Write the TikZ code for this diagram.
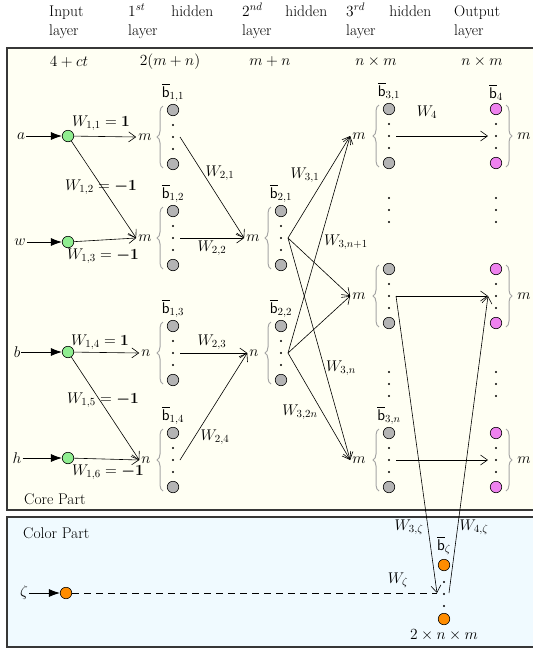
\RequirePackage{fix-cm}
\documentclass[tikz,border=0pt]{standalone}
\usepackage{amsmath,bm}
\usetikzlibrary{arrows.meta,decorations.pathreplacing}
\definecolor{corefill}{RGB}{255,255,243}
\definecolor{colfill}{RGB}{240,250,255}
\definecolor{ngray}{RGB}{180,180,180}
\definecolor{ngreen}{RGB}{144,238,144}
\definecolor{npink}{RGB}{238,130,238}
\definecolor{norange}{RGB}{255,140,0}
\definecolor{brgray}{RGB}{165,165,165}
\definecolor{boxline}{RGB}{55,55,55}
\tikzset{
  neuron/.style={circle,draw=black,line width=0.6pt,minimum size=11.5pt,inner sep=0pt},
  grayn/.style={neuron,fill=ngray},
  greenn/.style={neuron,fill=ngreen},
  pinkn/.style={neuron,fill=npink},
  orangen/.style={neuron,fill=norange},
  vdot/.style={circle,fill=black,inner sep=0pt,minimum size=2.4pt},
  conn/.style={-{Straight Barb[length=7pt,width=10pt]},line width=0.6pt},
  inarrow/.style={-{Latex[length=11pt,width=8pt]},line width=0.8pt},
  brc/.style={decorate,decoration={brace,amplitude=6pt},draw=brgray,line width=1pt},
  hdr/.style={anchor=base west,inner sep=0pt},
  cntlab/.style={inner sep=2pt},
  blab/.style={anchor=south,inner sep=1pt},
  wlab/.style={inner sep=0pt},
  boxst/.style={draw=boxline,line width=1.2pt},
}
\newcommand\mkgroup[4]{%
  \node[#4] (#1t) at ({#2},{#3-27}) {};
  \node[#4] (#1b) at ({#2},{#3+27}) {};
  \node[vdot] (#1d1) at ({#2},{#3-12}) {};
  \node[vdot] (#1d2) at ({#2},{#3}) {};
  \node[vdot] (#1d3) at ({#2},{#3+12}) {};
  \coordinate (#1o) at ({#2+7},{#3});
  \coordinate (#1i) at ({#2-8},{#3});
}
\newcommand\mkbrace[3]{%
  \draw[brc] ({#1+10*#3},{#2-31*#3}) -- ({#1+10*#3},{#2+31*#3});
}
\begin{document}
\begin{tikzpicture}[x=1pt,y=-1pt,every node/.style={font=\fontsize{15.5}{19}\selectfont}]
\useasboundingbox (0,0) rectangle (533,649);
% boxes
\fill[corefill] (7,48) rectangle (545,510);
\draw[boxst] (7,48) rectangle (545,510);
\fill[colfill] (7,517) rectangle (545,647);
\draw[boxst] (7,517) rectangle (545,647);
\node[anchor=west,inner sep=0pt] (core) at (24,499) {Core Part};
\node[anchor=west,inner sep=0pt] (color) at (23,533) {Color Part};
% headers
\node[hdr] (h1a) at (49,16) {Input};
\node[hdr] (h1b) at (49,35) {layer};
\node[hdr] (h2a) at (128,16) {\hbox to 85pt{$1^{st}$\hfill hidden}};
\node[hdr] (h2b) at (128,35) {layer};
\node[hdr] (h3a) at (242,16) {\hbox to 85pt{$2^{nd}$\hfill hidden}};
\node[hdr] (h3b) at (242,35) {layer};
\node[hdr] (h4a) at (346,16) {\hbox to 85pt{$3^{rd}$\hfill hidden}};
\node[hdr] (h4b) at (346,35) {layer};
\node[hdr] (h5a) at (454,16) {Output};
\node[hdr] (h5b) at (454,35) {layer};
\node (s1) at (69,62) {$4+ct$};
\node (s2) at (170,62) {$2(m+n)$};
\node (s3) at (270,62) {$m+n$};
\node (s4) at (376,62) {$n\times m$};
\node (s5) at (482,62) {$n\times m$};
% inputs
\node[greenn] (na) at (68,136) {};
\node[greenn] (nw) at (68,242) {};
\node[greenn] (nb) at (68,352) {};
\node[greenn] (nh) at (68,458) {};
\node[inner sep=1pt] (la) at (21,136) {$a$};
\node[inner sep=1pt] (lw) at (20,242) {$w$};
\node[inner sep=1pt] (lb) at (17,352) {$b$};
\node[inner sep=1pt] (lh) at (17,458) {$h$};
\draw[inarrow] (la) -- (na);
\draw[inarrow] (lw) -- (nw);
\draw[inarrow] (lb) -- (nb);
\draw[inarrow] (lh) -- (nh);
% first hidden layer
\mkgroup{G11}{173}{137}{grayn}\mkbrace{173}{137}{-1}
\mkgroup{G12}{173}{238}{grayn}\mkbrace{173}{238}{-1}
\mkgroup{G13}{173}{353}{grayn}\mkbrace{173}{353}{-1}
\mkgroup{G14}{173}{460}{grayn}\mkbrace{173}{460}{-1}
\node[cntlab] (G11m) at (145,137) {$m$};
\node[cntlab] (G12m) at (145,238) {$m$};
\node[cntlab] (G13m) at (146,353) {$n$};
\node[cntlab] (G14m) at (146,460) {$n$};
\node[blab] (G11l) at (173,103) {$\overline{\mathsf{b}}_{1,1}$};
\node[blab] (G12l) at (173,204) {$\overline{\mathsf{b}}_{1,2}$};
\node[blab] (G13l) at (173,319) {$\overline{\mathsf{b}}_{1,3}$};
\node[blab] (G14l) at (173,426) {$\overline{\mathsf{b}}_{1,4}$};
% second hidden layer
\mkgroup{G21}{281}{238}{grayn}\mkbrace{281}{238}{-1}
\mkgroup{G22}{281}{353}{grayn}\mkbrace{281}{353}{-1}
\node[cntlab] (G21m) at (253,238) {$m$};
\node[cntlab] (G22m) at (254,353) {$n$};
\node[blab] (G21l) at (281,204) {$\overline{\mathsf{b}}_{2,1}$};
\node[blab] (G22l) at (281,319) {$\overline{\mathsf{b}}_{2,2}$};
% third hidden layer
\mkgroup{G31}{389}{136}{grayn}\mkbrace{389}{136}{-1}
\mkgroup{G32}{389}{296}{grayn}\mkbrace{389}{296}{-1}
\mkgroup{G3n}{389}{460}{grayn}\mkbrace{389}{460}{-1}
\node[cntlab] (G31m) at (359,136) {$m$};
\node[cntlab] (G32m) at (359,296) {$m$};
\node[cntlab] (G3nm) at (359,460) {$m$};
\node[blab] (G31l) at (389,102) {$\overline{\mathsf{b}}_{3,1}$};
\node[blab] (G3nl) at (389,426) {$\overline{\mathsf{b}}_{3,n}$};
\node[vdot] (v1) at (389,198) {};
\node[vdot] (v2) at (389,210) {};
\node[vdot] (v3) at (389,222) {};
\node[vdot] (v4) at (389,372) {};
\node[vdot] (v5) at (389,384) {};
\node[vdot] (v6) at (389,396) {};
% output layer
\mkgroup{O1}{496}{136}{pinkn}\mkbrace{496}{136}{1}
\mkgroup{O2}{496}{296}{pinkn}\mkbrace{496}{296}{1}
\mkgroup{On}{496}{460}{pinkn}\mkbrace{496}{460}{1}
\node[cntlab] (O1m) at (524,136) {$m$};
\node[cntlab] (O2m) at (524,296) {$m$};
\node[cntlab] (Onm) at (524,460) {$m$};
\node[blab] (O1l) at (496,102) {$\overline{\mathsf{b}}_{4}$};
\node[vdot] (v7) at (496,198) {};
\node[vdot] (v8) at (496,210) {};
\node[vdot] (v9) at (496,222) {};
\node[vdot] (v10) at (496,372) {};
\node[vdot] (v11) at (496,384) {};
\node[vdot] (v12) at (496,396) {};
% colour part
\node[orangen] (nz) at (66,593) {};
\node[inner sep=1pt] (lz) at (24,593) {$\zeta$};
\draw[inarrow] (lz) -- (nz);
\node[orangen] (Zt) at (444,565) {};
\node[orangen] (Zb) at (444,619) {};
\node[vdot] (Zd1) at (444,582) {};
\node[vdot] (Zd2) at (444,594) {};
\node[vdot] (Zd3) at (444,606) {};
\coordinate (Zin) at (437,593);
\coordinate (Zout) at (449,593);
\node[blab] (Zl) at (444,556) {$\overline{\mathsf{b}}_{\zeta}$};
\node (Zc) at (444,635) {$2\times n\times m$};
% connectors: layer 1
\draw[conn] (na) -- (G11m.west);
\draw[conn] (na) -- (G12m.west);
\draw[conn] (nw) -- (G12m.west);
\draw[conn] (nb) -- (G13m.west);
\draw[conn] (nb) -- (G14m.west);
\draw[conn] (nh) -- (G14m.west);
% layer 2
\draw[conn] (G11o) -- (G21m.west);
\draw[conn] (G12o) -- (G21m.west);
\draw[conn] (G13o) -- (G22m.west);
\draw[conn] (G14o) -- (G22m.west);
% layer 3
\draw[conn] (G21o) -- (G31m.west);
\draw[conn] (G21o) -- (G32m.west);
\draw[conn] (G21o) -- (G3nm.west);
\draw[conn] (G22o) -- (G31m.west);
\draw[conn] (G22o) -- (G32m.west);
\draw[conn] (G22o) -- (G3nm.west);
% layer 4
\draw[conn] (G31o) -- (O1i);
\draw[conn] (G32o) -- (O2i);
\draw[conn] (G3no) -- (Oni);
% colour
\draw[conn] (G32o) -- (Zin);
\draw[conn] (Zout) -- (O2i);
\draw[dash pattern=on 7pt off 5pt,line width=0.6pt] (nz) -- (Zin);
% weight labels
\node[wlab] (w11) at (101,123) {$W_{1,1}=\bm{1}$};
\node[wlab] (w12) at (101,187) {$W_{1,2}=\bm{-1}$};
\node[wlab] (w13) at (103,256) {$W_{1,3}=\bm{-1}$};
\node[wlab] (w14) at (100,342) {$W_{1,4}=\bm{1}$};
\node[wlab] (w15) at (103,400) {$W_{1,5}=\bm{-1}$};
\node[wlab] (w16) at (108,472) {$W_{1,6}=\bm{-1}$};
\node[wlab] (w21) at (220,173) {$W_{2,1}$};
\node[wlab] (w22) at (212,248) {$W_{2,2}$};
\node[wlab] (w23) at (212,342) {$W_{2,3}$};
\node[wlab] (w24) at (215,437) {$W_{2,4}$};
\node[wlab] (w31) at (305,175) {$W_{3,1}$};
\node[wlab] (w3n1) at (346,242) {$W_{3,n+1}$};
\node[wlab] (w3n) at (341,368) {$W_{3,n}$};
\node[wlab] (w32n) at (300,412) {$W_{3,2n}$};
\node[wlab] (w4) at (427,112) {$W_{4}$};
\node[wlab] (w3z) at (409,527) {$W_{3,\zeta}$};
\node[wlab] (w4z) at (474,527) {$W_{4,\zeta}$};
\node[wlab] (wz) at (398,580) {$W_{\zeta}$};
\end{tikzpicture}
\end{document}
